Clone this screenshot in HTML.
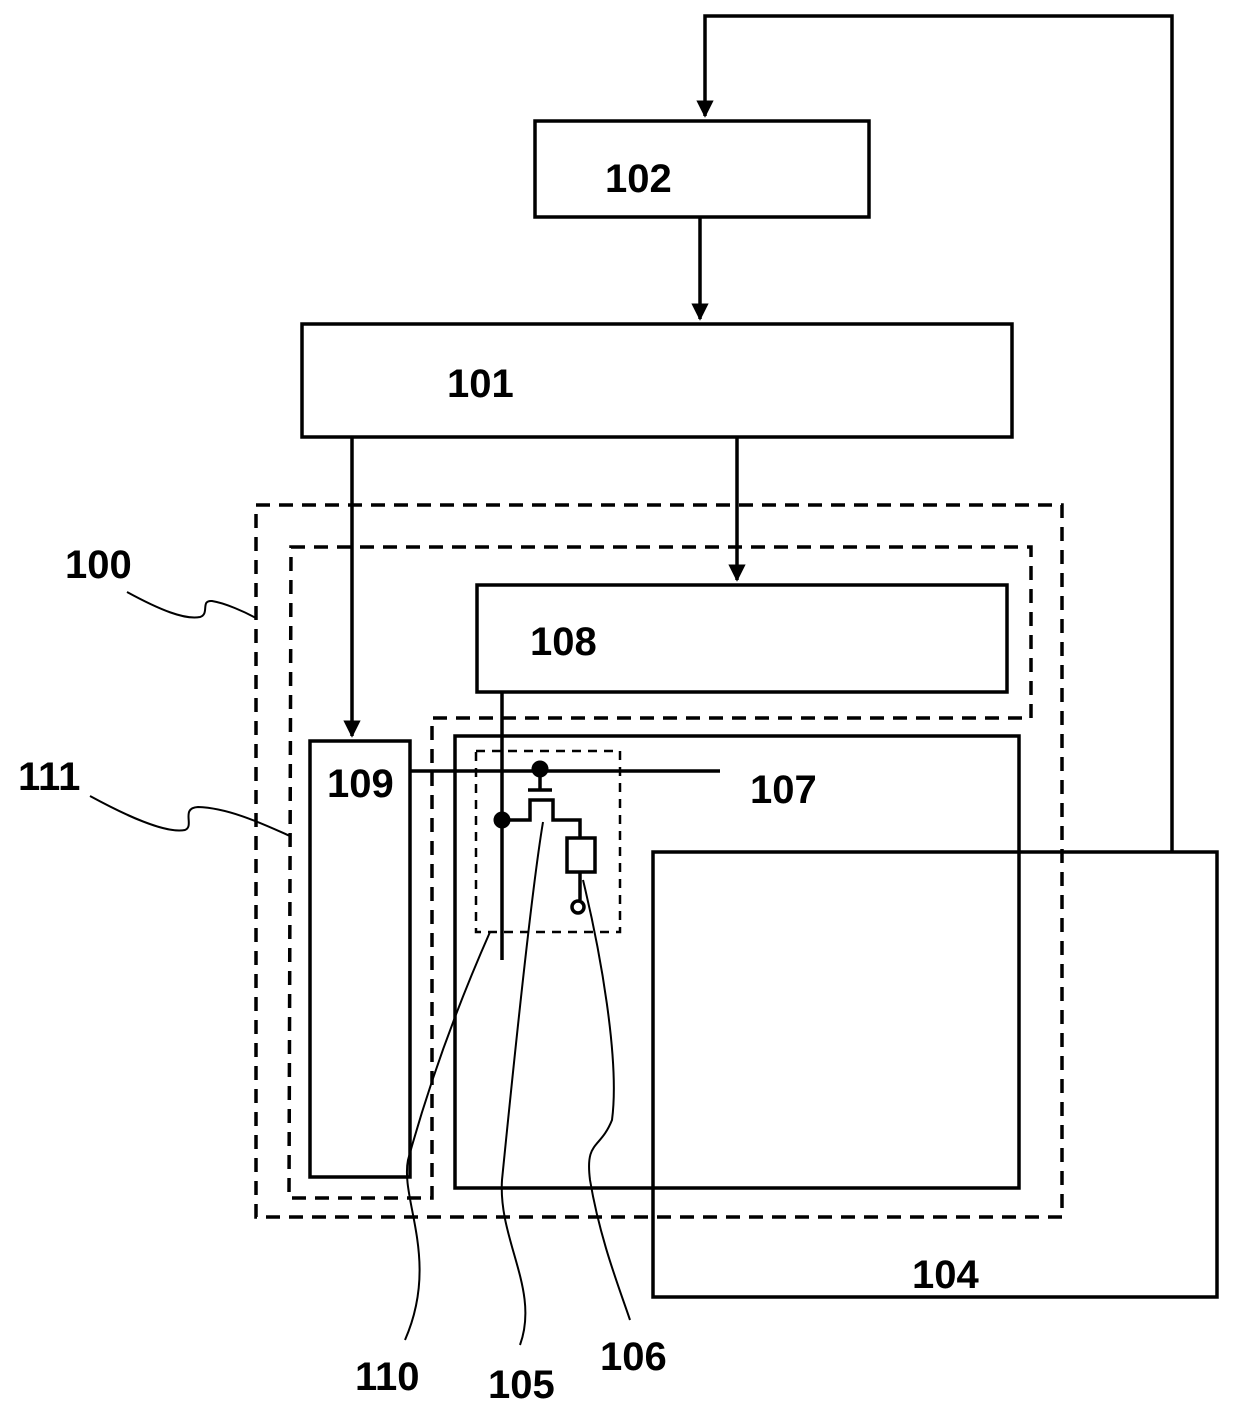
<!DOCTYPE html>
<html><head><meta charset="utf-8"><style>html,body{margin:0;padding:0;background:#fff}svg{display:block}</style></head>
<body>
<svg width="1240" height="1424" viewBox="0 0 1240 1424" xmlns="http://www.w3.org/2000/svg" font-family="Liberation Sans, sans-serif" font-size="40" fill="none" stroke="#000">
<defs><marker id="a" viewBox="0 0 10 10" refX="9" refY="5" markerWidth="5" markerHeight="7" orient="auto" markerUnits="strokeWidth"><path d="M0,0 L10,5 L0,10z" fill="#000" stroke="none"/></marker></defs>
<g stroke-width="3.5">
<rect x="535" y="121" width="334" height="96"/>
<rect x="302" y="324" width="710" height="113"/>
<rect x="477" y="585" width="530" height="107"/>
<rect x="455" y="736" width="564" height="452"/>
<rect x="310" y="741" width="100" height="436"/>
<rect x="653" y="852" width="564" height="445"/>
<path d="M1172 852 V16 H705 V116" marker-end="url(#a)"/>
<path d="M700 217 V319" marker-end="url(#a)"/>
<path d="M352 437 V736" marker-end="url(#a)"/>
<path d="M737 437 V580" marker-end="url(#a)"/>
<path d="M410 771 H720"/>
<path d="M502 692 V960"/>
<path d="M540 769 V790 M528 790 H552 M502 820 H530 V800 H553 V820 H580 V838"/>
<rect x="567" y="838" width="28" height="34"/>
<path d="M580 872 V900"/>
<circle cx="578" cy="907" r="6"/>
</g>
<g stroke-width="3.5" stroke-dasharray="14,9">
<rect x="256" y="505" width="806" height="712"/>
<path d="M291 547 H1031 V718 H432 V1198 H289 Z"/>
</g>
<rect x="476" y="751" width="144" height="181" stroke-width="2.5" stroke-dasharray="9,7"/>
<circle cx="502" cy="820" r="8" fill="#000"/>
<circle cx="540" cy="769" r="8" fill="#000"/>
<g stroke-width="2">
<path d="M127 592 C160 610 185 620 200 617 C210 614 200 600 212 601 C225 603 245 612 256 618"/>
<path d="M90 796 C125 815 165 834 185 830 C195 826 180 808 198 807 C230 808 265 825 290 836"/>
<path d="M490 932 C460 1000 430 1080 408 1160 C400 1200 440 1260 405 1340"/>
<path d="M543 822 C530 900 510 1100 502 1180 C498 1240 540 1290 520 1345"/>
<path d="M583 880 C600 950 620 1060 612 1120 C600 1150 585 1140 590 1180 C600 1240 620 1290 630 1320"/>
</g>
<g fill="#000" stroke="none" font-weight="bold">
<text x="605" y="192">102</text>
<text x="447" y="397">101</text>
<text x="530" y="655">108</text>
<text x="327" y="797">109</text>
<text x="750" y="803">107</text>
<text x="912" y="1288">104</text>
<text x="65" y="578">100</text>
<text x="18" y="790">111</text>
<text x="355" y="1390">110</text>
<text x="488" y="1398">105</text>
<text x="600" y="1370">106</text>
</g>
</svg>
</body></html>
